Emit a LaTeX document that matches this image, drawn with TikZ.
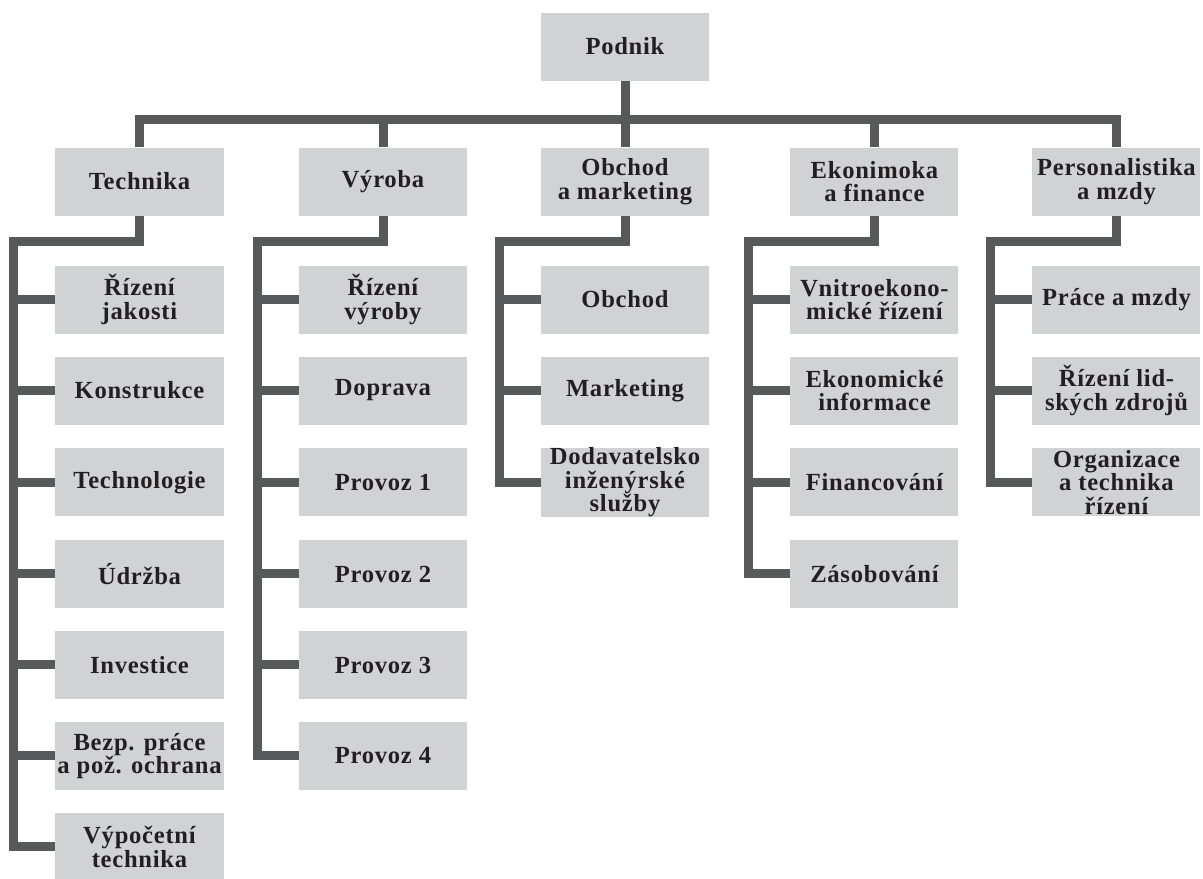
\documentclass[tikz,border=0pt]{standalone}
\usepackage{fontspec}
\setmainfont{Liberation Serif}[LetterSpace=3]
\usetikzlibrary{calc, matrix}

\definecolor{boxgray}{HTML}{D1D2D4}
\definecolor{linegray}{HTML}{58595B}
\definecolor{textblack}{HTML}{231F20}

\begin{document}
\begin{tikzpicture} [conn/.style={draw=linegray, line width=0.18cm}]
\useasboundingbox (0,0) rectangle (24.06cm,-17.58cm);

\matrix(m)[matrix of nodes, ampersand replacement=\&, % <- \& as column separator
column sep=1.48cm, row sep=0.46cm,
matrix anchor=m-1-3.center,
nodes={fill=boxgray, text=textblack, anchor=center, inner sep=0pt,
  minimum width=3.36cm, minimum height=1.36cm, text width=3.36cm, align=flush center,
  font=\bfseries\fontsize{14}{13.4}\selectfont}] at (12.5cm,-0.93cm)
{
	\&[0.03cm] \& Podnik \&[0.15cm] \& \\[0.88cm]
	Technika \& Výroba \& {Obchod\\a marketing} \& {Ekonimoka\\a finance} \& {Personalistika\\a mzdy} \\[0.54cm]
	{Řízení\\jakosti} \& {Řízení\\výroby} \& Obchod \& {Vnitroekono-\\mické řízení} \& Práce a mzdy \\
	Konstrukce \& Doprava \& Marketing \& {Ekonomické\\informace} \& {Řízení lid-\\ských zdrojů} \\
	Technologie \& Provoz 1 \& {Dodavatelsko\\inženýrské\\služby} \& Financování \& {Organizace\\a technika\\řízení} \\
	Údržba \& Provoz 2 \& \& Zásobování \& \\
	Investice \& Provoz 3 \& \& \& \\
	{Bezp. práce\\a pož. ochrana} \& Provoz 4 \& \& \& \\
	{Výpočetní\\technika} \& \& \& \& \\
};

% top level
\draw[conn] (m-1-3.south) -- (m-2-3.north);
\draw[conn] (m-2-1.north) -- ++(0,0.56cm) -| (m-2-5.north);
\foreach \c in {2,4}
	\draw[conn] (m-2-\c.north) -- ++(0,0.56cm);

% departments
\foreach \c/\n in {1/9, 2/8, 3/5, 4/6, 5/5} {
	\draw[conn] (m-2-\c.south) -- ++(0,-0.51cm) -| ($(m-\n-\c.west)+(-0.83cm,0)$) -- (m-\n-\c.west);
	\foreach \r in {3,...,\n}
		\draw[conn] (m-\r-\c.west) -- ++(-0.83cm,0);
}

\end{tikzpicture}
\end{document}
